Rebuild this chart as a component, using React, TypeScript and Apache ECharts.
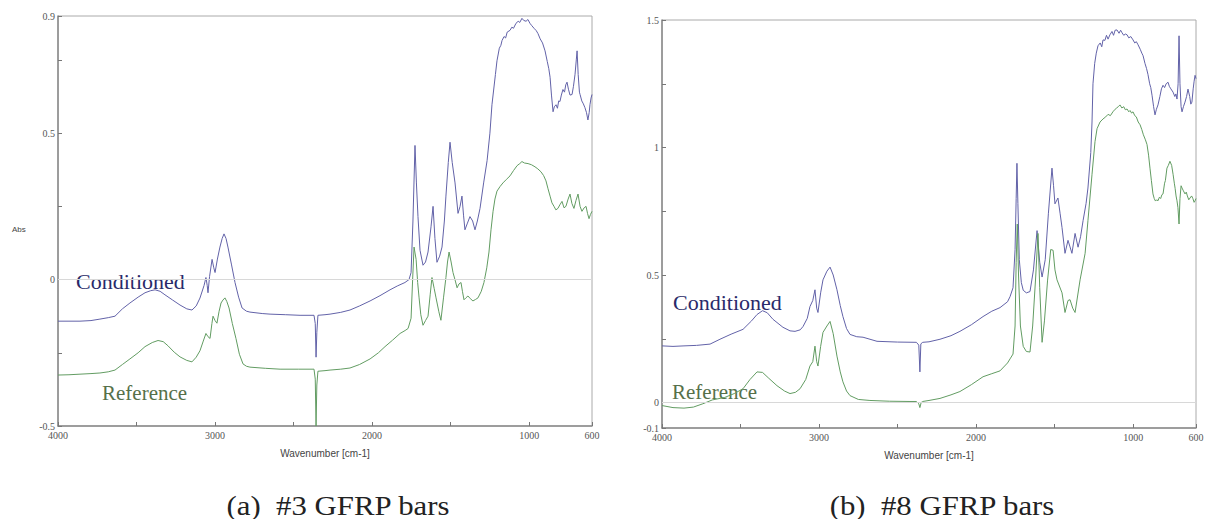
import React, { useEffect, useRef } from "react";
import * as echarts from "echarts";

// Axis ticks and labels
const xTickValues = [4000, 3500, 3000, 2500, 2000, 1500, 1000, 600];
const xLabelValues = [4000, 3000, 2000, 1000, 600];
const yTicksA = [-0.5, -0.25, 0, 0.25, 0.5, 0.75, 0.9];
const yLabelsA = [-0.5, 0, 0.5, 0.9];
const yTicksB = [-0.1, 0, 0.25, 0.5, 0.75, 1, 1.25, 1.5];
const yLabelsB = [-0.1, 0, 0.5, 1, 1.5];

const captionA = "(a)\u00a0 #3 GFRP bars";
const captionB = "(b)\u00a0 #8 GFRP bars";
const seriesNames = ["Conditioned", "Reference"];

// (a) #3 GFRP bars — [wavenumber, absorbance]
const conditionedA: [number, number][] = [
  [4000, -0.142], [3930, -0.142], [3860, -0.142], [3790, -0.14], [3733, -0.135], [3680, -0.13],
  [3637, -0.125], [3590, -0.1], [3542, -0.08], [3490, -0.06], [3446, -0.045], [3410, -0.038],
  [3382, -0.035], [3350, -0.04], [3319, -0.052], [3270, -0.07], [3223, -0.087], [3180, -0.1],
  [3147, -0.104], [3120, -0.09], [3096, -0.063], [3070, -0.02], [3058, 0.007], [3050, -0.02],
  [3045, -0.045], [3035, 0.01], [3019, 0.069], [3008, 0.04], [3000, 0.024], [2985, 0.07],
  [2969, 0.111], [2955, 0.14], [2943, 0.156], [2930, 0.14], [2918, 0.111], [2895, 0.05],
  [2873, -0.01], [2850, -0.06], [2828, -0.097], [2800, -0.108], [2778, -0.111], [2700, -0.116],
  [2650, -0.118], [2550, -0.12], [2459, -0.122], [2370, -0.122], [2362, -0.15], [2357, -0.265],
  [2352, -0.18], [2345, -0.122], [2300, -0.12], [2268, -0.118], [2200, -0.112], [2141, -0.104],
  [2080, -0.09], [2013, -0.073], [1950, -0.055], [1886, -0.035], [1840, -0.022], [1791, -0.01],
  [1765, 0.0], [1752, 0.024], [1740, 0.2], [1727, 0.458], [1718, 0.33], [1708, 0.215],
  [1695, 0.1], [1676, 0.049], [1660, 0.06], [1644, 0.094], [1625, 0.18], [1612, 0.25],
  [1600, 0.14], [1587, 0.059], [1570, 0.08], [1555, 0.111], [1540, 0.2], [1530, 0.285],
  [1515, 0.4], [1504, 0.469], [1490, 0.4], [1472, 0.33], [1453, 0.226], [1440, 0.25],
  [1428, 0.285], [1418, 0.22], [1409, 0.17], [1395, 0.19], [1377, 0.215], [1360, 0.2],
  [1345, 0.17], [1330, 0.2], [1313, 0.243], [1290, 0.33], [1268, 0.406], [1250, 0.5],
  [1237, 0.597], [1215, 0.7], [1205, 0.747], [1190, 0.79], [1180, 0.8], [1173, 0.816],
  [1160, 0.83], [1150, 0.825], [1140, 0.845], [1122, 0.851], [1110, 0.862], [1100, 0.858],
  [1084, 0.875], [1070, 0.882], [1060, 0.878], [1046, 0.892], [1035, 0.885], [1020, 0.882],
  [1008, 0.888], [995, 0.875], [985, 0.868], [969, 0.858], [955, 0.85], [944, 0.84],
  [930, 0.822], [915, 0.808], [899, 0.781], [885, 0.745], [875, 0.72], [867, 0.691],
  [858, 0.63], [848, 0.573], [840, 0.59], [829, 0.597], [820, 0.585], [812, 0.61],
  [804, 0.608], [795, 0.63], [785, 0.649], [775, 0.64], [767, 0.665], [759, 0.674],
  [750, 0.65], [740, 0.63], [727, 0.632], [718, 0.66], [708, 0.701], [700, 0.75],
  [695, 0.781], [688, 0.7], [680, 0.64], [676, 0.632], [665, 0.61], [655, 0.6],
  [645, 0.587], [635, 0.57], [626, 0.545], [618, 0.57], [613, 0.597], [606, 0.62], [600, 0.632],
];

const referenceA: [number, number][] = [
  [4000, -0.326], [3930, -0.325], [3860, -0.323], [3790, -0.321], [3733, -0.319], [3680, -0.315],
  [3637, -0.309], [3590, -0.29], [3542, -0.271], [3490, -0.25], [3446, -0.229], [3400, -0.215],
  [3363, -0.208], [3330, -0.212], [3300, -0.226], [3260, -0.248], [3223, -0.264], [3180, -0.276],
  [3147, -0.281], [3120, -0.265], [3096, -0.243], [3075, -0.21], [3058, -0.184], [3045, -0.195],
  [3032, -0.201], [3020, -0.15], [3013, -0.125], [3000, -0.14], [2988, -0.149], [2975, -0.11],
  [2962, -0.08], [2950, -0.07], [2937, -0.0625], [2925, -0.075], [2911, -0.097], [2890, -0.15],
  [2867, -0.201], [2845, -0.255], [2822, -0.288], [2800, -0.296], [2778, -0.299], [2680, -0.303],
  [2586, -0.306], [2470, -0.306], [2370, -0.306], [2362, -0.34], [2357, -0.5], [2352, -0.36],
  [2345, -0.313], [2300, -0.311], [2268, -0.309], [2200, -0.306], [2141, -0.302], [2080, -0.29],
  [2013, -0.271], [1960, -0.25], [1918, -0.229], [1870, -0.207], [1822, -0.184], [1790, -0.174],
  [1771, -0.167], [1752, -0.132], [1742, 0.0], [1733, 0.111], [1720, 0.069], [1710, -0.01],
  [1701, -0.0625], [1690, -0.12], [1676, -0.156], [1660, -0.14], [1644, -0.125], [1630, -0.05],
  [1619, 0.007], [1605, -0.03], [1593, -0.0625], [1575, -0.11], [1562, -0.139], [1545, -0.06],
  [1530, 0.007], [1520, 0.06], [1510, 0.094], [1497, 0.06], [1485, 0.024], [1470, -0.005],
  [1459, -0.028], [1447, -0.015], [1434, -0.01], [1425, -0.04], [1415, -0.069], [1402, -0.062],
  [1390, -0.056], [1375, -0.065], [1358, -0.073], [1342, -0.068], [1326, -0.0625], [1305, -0.04],
  [1288, -0.01], [1270, 0.04], [1256, 0.094], [1243, 0.17], [1230, 0.233], [1218, 0.275],
  [1205, 0.302], [1185, 0.318], [1167, 0.33], [1145, 0.342], [1122, 0.354], [1100, 0.372],
  [1077, 0.389], [1060, 0.396], [1046, 0.403], [1030, 0.398], [1007, 0.396], [985, 0.392],
  [963, 0.385], [945, 0.378], [925, 0.368], [908, 0.355], [893, 0.337], [880, 0.31],
  [867, 0.285], [855, 0.262], [842, 0.25], [830, 0.238], [817, 0.243], [805, 0.255],
  [791, 0.267], [778, 0.245], [766, 0.25], [752, 0.275], [740, 0.292], [728, 0.26],
  [715, 0.243], [702, 0.27], [689, 0.292], [676, 0.25], [664, 0.233], [650, 0.245],
  [638, 0.25], [628, 0.225], [619, 0.208], [610, 0.222], [600, 0.233],
];

// (b) #8 GFRP bars — [wavenumber, absorbance]
const conditionedB: [number, number][] = [
  [4000, 0.222], [3930, 0.22], [3860, 0.222], [3780, 0.224], [3694, 0.229], [3631, 0.248],
  [3560, 0.268], [3484, 0.287], [3430, 0.32], [3395, 0.345], [3360, 0.36], [3330, 0.352],
  [3293, 0.326], [3230, 0.295], [3185, 0.281], [3153, 0.279], [3120, 0.285], [3102, 0.298],
  [3075, 0.33], [3058, 0.376], [3040, 0.4], [3026, 0.442], [3015, 0.37], [3007, 0.353],
  [2990, 0.43], [2975, 0.481], [2950, 0.515], [2930, 0.531], [2910, 0.5], [2886, 0.442],
  [2865, 0.38], [2848, 0.337], [2825, 0.29], [2803, 0.267], [2760, 0.258], [2720, 0.256],
  [2631, 0.24], [2500, 0.237], [2380, 0.236], [2365, 0.225], [2358, 0.12], [2352, 0.23],
  [2340, 0.236], [2300, 0.238], [2230, 0.248], [2160, 0.262], [2103, 0.279], [2030, 0.305],
  [1956, 0.337], [1900, 0.358], [1848, 0.372], [1800, 0.395], [1784, 0.415], [1765, 0.45],
  [1752, 0.6], [1745, 0.8], [1740, 0.938], [1734, 0.78], [1725, 0.56], [1712, 0.47],
  [1700, 0.44], [1680, 0.43], [1657, 0.435], [1635, 0.52], [1612, 0.674], [1595, 0.55],
  [1580, 0.492], [1560, 0.56], [1540, 0.74], [1517, 0.919], [1507, 0.85], [1498, 0.779],
  [1479, 0.802], [1465, 0.74], [1453, 0.686], [1434, 0.585], [1415, 0.636], [1402, 0.61],
  [1390, 0.585], [1370, 0.663], [1351, 0.609], [1335, 0.65], [1319, 0.713], [1300, 0.78],
  [1288, 0.841], [1270, 0.98], [1262, 1.1], [1256, 1.25], [1245, 1.33], [1235, 1.37],
  [1224, 1.399], [1210, 1.41], [1200, 1.395], [1192, 1.422], [1180, 1.42], [1170, 1.44],
  [1160, 1.425], [1148, 1.442], [1135, 1.455], [1125, 1.44], [1115, 1.46], [1103, 1.461],
  [1090, 1.448], [1080, 1.46], [1071, 1.45], [1060, 1.44], [1050, 1.445], [1039, 1.442],
  [1028, 1.43], [1015, 1.435], [1001, 1.422], [990, 1.41], [980, 1.415], [969, 1.403],
  [955, 1.385], [945, 1.37], [937, 1.36], [925, 1.33], [915, 1.31], [906, 1.287],
  [895, 1.25], [888, 1.235], [880, 1.205], [870, 1.16], [861, 1.128], [852, 1.15],
  [842, 1.167], [830, 1.2], [820, 1.23], [810, 1.244], [800, 1.235], [790, 1.25],
  [778, 1.256], [770, 1.24], [760, 1.23], [746, 1.217], [735, 1.2], [728, 1.21],
  [721, 1.19], [714, 1.25], [708, 1.438], [702, 1.25], [695, 1.16], [689, 1.14],
  [680, 1.16], [670, 1.178], [660, 1.2], [651, 1.229], [640, 1.2], [633, 1.17],
  [626, 1.178], [618, 1.23], [612, 1.26], [606, 1.283], [600, 1.27],
];

const referenceB: [number, number][] = [
  [4000, -0.012], [3930, -0.02], [3860, -0.022], [3800, -0.018], [3740, -0.005], [3680, 0.01],
  [3600, 0.02], [3540, 0.035], [3484, 0.054], [3440, 0.09], [3395, 0.12], [3360, 0.118],
  [3320, 0.095], [3268, 0.066], [3220, 0.045], [3185, 0.035], [3150, 0.04], [3121, 0.054],
  [3085, 0.09], [3058, 0.143], [3040, 0.16], [3026, 0.221], [3015, 0.16], [3007, 0.143],
  [2990, 0.22], [2975, 0.275], [2950, 0.3], [2930, 0.318], [2910, 0.27], [2886, 0.182],
  [2865, 0.12], [2848, 0.081], [2825, 0.045], [2803, 0.027], [2750, 0.012], [2676, 0.008],
  [2550, 0.005], [2421, 0.004], [2380, 0.004], [2365, -0.005], [2358, -0.02], [2350, 0.0],
  [2340, 0.004], [2300, 0.008], [2230, 0.016], [2160, 0.03], [2103, 0.043], [2030, 0.07],
  [1956, 0.101], [1900, 0.113], [1848, 0.124], [1800, 0.155], [1784, 0.171], [1765, 0.19],
  [1752, 0.3], [1745, 0.55], [1738, 0.7], [1730, 0.5], [1718, 0.3], [1700, 0.22],
  [1680, 0.2], [1657, 0.198], [1640, 0.3], [1620, 0.5], [1606, 0.663], [1595, 0.45],
  [1580, 0.236], [1565, 0.32], [1545, 0.48], [1525, 0.6], [1510, 0.597], [1498, 0.52],
  [1485, 0.481], [1453, 0.43], [1434, 0.353], [1415, 0.4], [1402, 0.403], [1385, 0.37],
  [1370, 0.353], [1338, 0.481], [1306, 0.585], [1288, 0.713], [1262, 0.895], [1243, 1.023],
  [1230, 1.074], [1211, 1.1], [1192, 1.112], [1175, 1.12], [1160, 1.13], [1145, 1.125],
  [1129, 1.14], [1115, 1.15], [1105, 1.155], [1095, 1.16], [1084, 1.167], [1072, 1.155],
  [1060, 1.16], [1050, 1.148], [1039, 1.151], [1028, 1.14], [1020, 1.145], [1010, 1.135],
  [1001, 1.14], [990, 1.125], [980, 1.12], [968, 1.1], [956, 1.089], [945, 1.07],
  [935, 1.05], [922, 1.03], [912, 1.012], [902, 0.97], [893, 0.919], [884, 0.87],
  [874, 0.818], [866, 0.8], [858, 0.79], [850, 0.795], [842, 0.791], [833, 0.805],
  [825, 0.8], [817, 0.815], [810, 0.818], [800, 0.86], [795, 0.87], [785, 0.919],
  [776, 0.93], [766, 0.946], [755, 0.93], [746, 0.895], [738, 0.86], [733, 0.84],
  [727, 0.81], [721, 0.791], [715, 0.764], [708, 0.7], [702, 0.8], [695, 0.85],
  [689, 0.841], [680, 0.83], [670, 0.818], [662, 0.825], [655, 0.81], [646, 0.795],
  [638, 0.802], [628, 0.81], [620, 0.8], [612, 0.785], [606, 0.791], [600, 0.8],
];

const condColor = "#6262a8";
const refColor = "#629c62";
const serif = "'Liberation Serif', 'DejaVu Serif', serif";
const sans = "'Liberation Sans', Arial, sans-serif";

const plainNumber = (v: number) => String(v);

function makeXAxis(gridIndex: number) {
  return {
    type: "value",
    gridIndex,
    min: 600,
    max: 4000,
    inverse: true,
    name: "Wavenumber [cm-1]",
    nameLocation: "middle",
    nameGap: 22,
    nameTextStyle: { fontSize: 10, color: "#444", fontFamily: sans },
    axisLine: { show: true, onZero: false, lineStyle: { color: "#8a8a8a", width: 1.5 } },
    axisTick: { show: true, inside: true, length: 4, customValues: xTickValues, lineStyle: { color: "#777" } },
    axisLabel: { customValues: xLabelValues, formatter: plainNumber, fontSize: 10, color: "#555", fontFamily: serif, margin: 4 },
    splitLine: { show: false },
  };
}

function makeYAxis(gridIndex: number, min: number, max: number, ticks: number[], labels: number[]) {
  return {
    type: "value",
    gridIndex,
    min,
    max,
    axisLine: { show: true, onZero: false, lineStyle: { color: "#8a8a8a", width: 1.5 } },
    axisTick: { show: true, inside: true, length: 4, customValues: ticks, lineStyle: { color: "#777" } },
    axisLabel: { customValues: labels, formatter: plainNumber, fontSize: 10, color: "#555", fontFamily: serif, margin: 3 },
    splitLine: { show: false },
  };
}

function zeroLine() {
  return {
    silent: true,
    symbol: ["none", "none"],
    label: { show: false },
    lineStyle: { color: "#d8d8d8", width: 1, type: "solid" },
    data: [{ yAxis: 0 }],
  };
}

function lineSeries(name: string, data: [number, number][], idx: number, color: string, withZero: boolean) {
  return {
    type: "line",
    name,
    xAxisIndex: idx,
    yAxisIndex: idx,
    data,
    showSymbol: false,
    symbol: "none",
    lineStyle: { color, width: 1 },
    itemStyle: { color },
    markLine: withZero ? zeroLine() : undefined,
  };
}

function label(text: string, x: number, y: number, size: number, fill: string, align = "left") {
  return {
    type: "text",
    x,
    y,
    style: { text, fontSize: size, fontFamily: serif, fill, align, verticalAlign: "middle" },
  };
}

export default function App() {
  const ref = useRef<HTMLDivElement>(null);
  useEffect(() => {
    if (!ref.current) return;
    const chart = echarts.init(ref.current, undefined, { renderer: "svg" });
    chart.setOption({
      animation: false,
      backgroundColor: "#ffffff",
      grid: [
        { left: 58, top: 16, width: 534, height: 410, show: true, borderColor: "#aaa", borderWidth: 1, backgroundColor: "transparent" },
        { left: 662, top: 20, width: 534, height: 408, show: true, borderColor: "#aaa", borderWidth: 1, backgroundColor: "transparent" },
      ],
      xAxis: [makeXAxis(0), makeXAxis(1)],
      yAxis: [
        makeYAxis(0, -0.5, 0.9, yTicksA, yLabelsA),
        makeYAxis(1, -0.1, 1.5, yTicksB, yLabelsB),
      ],
      series: [
        lineSeries(seriesNames[0], conditionedA, 0, condColor, true),
        lineSeries(seriesNames[1], referenceA, 0, refColor, false),
        lineSeries(seriesNames[0], conditionedB, 1, condColor, true),
        lineSeries(seriesNames[1], referenceB, 1, refColor, false),
      ],
      graphic: [
        { type: "text", x: 12, y: 229, style: { text: "Abs", fontSize: 8, fontFamily: sans, fill: "#444", verticalAlign: "middle" } },
        label(seriesNames[0], 76, 281, 22, "#2a2a6a"),
        label(seriesNames[1], 102, 393, 21, "#56704a"),
        label(seriesNames[0], 673, 302, 22, "#2a2a6a"),
        label(seriesNames[1], 672, 392, 21, "#56704a"),
        { ...label(captionA, 338, 505, 28, "#222", "center"), scaleX: 1.1 },
        { ...label(captionB, 942, 505, 28, "#222", "center"), scaleX: 1.1 },
      ],
    });
    return () => chart.dispose();
  }, []);
  return (
    <div
      ref={ref}
      style={{ position: "fixed", left: 0, top: 0, width: 1209, height: 519, background: "#fff" }}
    />
  );
}
